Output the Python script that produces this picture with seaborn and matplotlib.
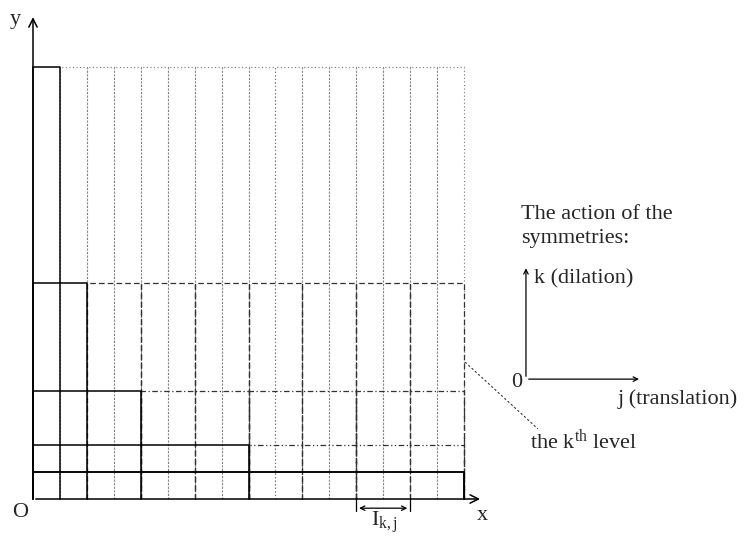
import matplotlib
matplotlib.use("Agg")
import matplotlib.pyplot as plt
import seaborn as sns
import numpy as np

# ---- data ----
domain = 16                        # total width of the tiling
cell_widths = [1, 2, 4, 8, 16]      # interval width at each level
level_tops = [16, 8, 4, 2, 1]       # height reached by each level
level_styles = ["dotted", "dashed", "dashdot", "dashdotdot", "solid"]
interval_marker = [12, 14]          # I_{k,j} span

sns.set_theme(style="white")
plt.rcParams["font.family"] = ["Liberation Serif", "DejaVu Serif"]
plt.rcParams["mathtext.fontset"] = "custom"
plt.rcParams["mathtext.rm"] = "Liberation Serif"
plt.rcParams["mathtext.it"] = "Liberation Serif:italic"

ls_map = {
    "dotted": (0, (1, 2.2)),
    "dashed": (0, (4.5, 2.5)),
    "dashdot": (0, (4.5, 2, 1, 2)),
    "dashdotdot": (0, (4.5, 2, 1, 2, 1, 2)),
    "solid": "-",
}
col_map = {"dotted": "#777777", "dashed": "#333333", "dashdot": "#333333",
           "dashdotdot": "#333333", "solid": "black"}
lw_map = {"dotted": 0.8, "dashed": 0.9, "dashdot": 0.9, "dashdotdot": 0.9, "solid": 1.1}

fig = plt.figure(figsize=(7.46, 5.36), dpi=100)
ax = fig.add_axes([0, 0, 1, 1])
px_x = 431 / 16
px_y = 432 / 16
ax.set_xlim(-33 / px_x, (746 - 33) / px_x)
ax.set_ylim(-(536 - 499) / px_y, 499 / px_y)
ax.axis("off")

# dashed/dotted cells of each level
for z, (w, top, st) in enumerate(zip(cell_widths, level_tops, level_styles)):
    n = domain // w
    for j in range(1, n):
        x0, x1 = j * w, (j + 1) * w
        ax.plot([x0, x0, x1, x1], [0, top, top, 0], linestyle=ls_map[st],
                color=col_map[st], lw=lw_map[st], zorder=1 + z)
# solid first cells
for w, top in zip(cell_widths, level_tops):
    ax.plot([0, 0, w, w], [0, top, top, 0], color="black", lw=1.1, zorder=10)
ax.plot([0, domain], [level_tops[-1], level_tops[-1]], color="black", lw=1.1, zorder=10)
ax.plot([domain, domain], [0, level_tops[-1]], color="black", lw=1.1, zorder=10)

# main axes arrows
ax.annotate("", xy=(16.7, 0), xytext=(0, 0),
            arrowprops=dict(arrowstyle="->", color="black", lw=1.1, mutation_scale=15), zorder=11)
ax.annotate("", xy=(0, 17.95), xytext=(0, 0),
            arrowprops=dict(arrowstyle="->", color="black", lw=1.1, mutation_scale=15), zorder=11)
fs = 16
ax.text(-0.65, 17.75, "y", fontsize=fs, ha="center", va="center")
ax.text(-0.48, -0.5, "O", fontsize=fs, ha="center", va="center")
ax.text(16.67, -0.62, "x", fontsize=fs, ha="center", va="center")

# interval marker
a, b = interval_marker
ax.plot([a, a], [0, -0.45], color="black", lw=0.9)
ax.plot([b, b], [0, -0.45], color="black", lw=0.9)
ax.annotate("", xy=(b, -0.34), xytext=(a, -0.34),
            arrowprops=dict(arrowstyle="<->", color="black", lw=0.9, mutation_scale=8))
ax.text((a + b) / 2 + 0.05, -1.0, r"I$_{\mathrm{k,j}}$", fontsize=fs, ha="center", va="baseline")

# inset: action of symmetries
ox, oy = 18.3, 4.44
ax.text(18.11, 10.55, "The action of the", fontsize=fs, ha="left", va="center")
ax.text(18.11, 9.63, "symmetries:", fontsize=fs, ha="left", va="center")
ax.annotate("", xy=(ox, 8.65), xytext=(ox, oy),
            arrowprops=dict(arrowstyle="->", color="black", lw=0.9, mutation_scale=8))
ax.annotate("", xy=(22.6, oy), xytext=(ox, oy),
            arrowprops=dict(arrowstyle="->", color="black", lw=0.9, mutation_scale=8))
ax.text(18.6, 8.17, "k (dilation)", fontsize=fs, ha="left", va="center")
ax.text(17.97, 4.33, "0", fontsize=fs, ha="center", va="center")
ax.text(21.71, 3.7, "j (translation)", fontsize=fs, ha="left", va="center")
ax.text(18.45, 2.15, r"the k$^{\mathrm{th}}$ level", fontsize=fs, ha="left", va="center")
ax.plot([16.04, 18.74], [5.07, 2.6], linestyle=(0, (2, 2)), color="#333333", lw=0.8)

fig.savefig("out.png", dpi=100)
